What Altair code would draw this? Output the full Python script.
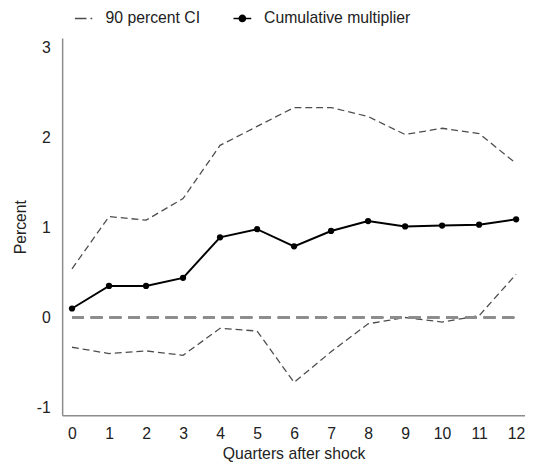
import altair as alt
import pandas as pd

quarters = list(range(13))
multiplier = [0.10, 0.35, 0.35, 0.44, 0.89, 0.98, 0.79, 0.96, 1.07, 1.01, 1.02, 1.03, 1.09]
ci_upper = [0.54, 1.12, 1.08, 1.32, 1.91, 2.12, 2.33, 2.33, 2.23, 2.03, 2.10, 2.04, 1.71]
ci_lower = [-0.33, -0.40, -0.37, -0.42, -0.12, -0.15, -0.72, -0.38, -0.07, 0.00, -0.05, 0.02, 0.48]
y_ticks = [-1, 0, 1, 2, 3]

series_names = ["90 percent CI", "Cumulative multiplier"]

mult_df = pd.DataFrame({"q": quarters, "v": multiplier})
ci_df = pd.concat([
    pd.DataFrame({"q": quarters, "v": ci_upper, "bound": "upper"}),
    pd.DataFrame({"q": quarters, "v": ci_lower, "bound": "lower"}),
])
legend_df = pd.DataFrame({"series": series_names})

FONT = "Liberation Sans"
FS = 16
xscale = alt.Scale(domain=[-0.266, 12.24], nice=False, zero=False)
yscale = alt.Scale(domain=[-1.085, 3.1], nice=False, zero=False)

xaxis = alt.Axis(values=quarters, title="Quarters after shock", ticks=False, grid=False,
                 labelOverlap=False, labelExpr="'' + datum.value",
                 domainColor="#8c8c8c", domainWidth=1.5, labelPadding=11, titlePadding=4)
yaxis = alt.Axis(values=y_ticks, labelExpr="'' + datum.value", title="Percent", ticks=False,
                 grid=False, labelOverlap=False,
                 domainColor="#8c8c8c", domainWidth=1.5, labelPadding=12, titlePadding=8)

base_x = alt.X("q:Q", scale=xscale, axis=xaxis)
base_y = alt.Y("v:Q", scale=yscale, axis=yaxis)

ci = alt.Chart(ci_df).mark_line(color="#4d4d4d", strokeWidth=1.3, strokeDash=[7, 4]).encode(
    x=base_x, y=base_y, detail="bound:N"
)

zero = alt.Chart(mult_df).mark_rule(color="#8c8c8c", strokeWidth=1.5, strokeDash=[12, 7]).encode(
    y=alt.YDatum(0, scale=yscale, axis=yaxis),
    x=alt.XDatum(0, scale=xscale, axis=xaxis),
    x2=alt.X2Datum(12),
)

mline = alt.Chart(mult_df).mark_line(color="black", strokeWidth=2).encode(x=base_x, y=base_y)
mpts = alt.Chart(mult_df).mark_point(filled=True, color="black", size=40, opacity=1).encode(
    x=base_x, y=base_y
)

ci_path = "M-1,0H0.3M0.75,0H0.95"
mult_path = "M-1,0H1M-0.35,0A0.35,0.35,0,1,1,0.35,0A0.35,0.35,0,1,1,-0.35,0Z"

leg = alt.Legend(title=None, orient="none", legendX=12, legendY=-30,
                 direction="horizontal", labelFontSize=FS, labelFont=FONT,
                 labelColor="#222222", symbolSize=324, symbolStrokeWidth=1.5,
                 labelOffset=12, columnPadding=30)

legend_layer = alt.Chart(legend_df).mark_point(filled=True, clip=True, opacity=1).encode(
    x=alt.value(-200), y=alt.value(-200),
    fill=alt.Fill("series:N", scale=alt.Scale(domain=series_names, range=["#4d4d4d", "black"]),
                  legend=leg),
    stroke=alt.Stroke("series:N", scale=alt.Scale(domain=series_names, range=["#4d4d4d", "black"]),
                      legend=leg),
    shape=alt.Shape("series:N", scale=alt.Scale(domain=series_names, range=[ci_path, mult_path]),
                    legend=leg),
)

chart = alt.layer(ci, zero, mline, mpts, legend_layer).properties(
    width=470, height=383,
    autosize=alt.AutoSizeParams(type="none"),
    padding={"left": 55, "top": 27, "right": 0, "bottom": 54},
).configure_view(stroke=None).configure_axis(
    labelFont=FONT, titleFont=FONT, labelFontSize=FS, titleFontSize=FS,
    labelColor="#222222", titleColor="#222222", titleFontWeight="normal",
    labelOverlap=False
)

chart.save("out.html", embed_options={"renderer": "svg", "actions": False})
